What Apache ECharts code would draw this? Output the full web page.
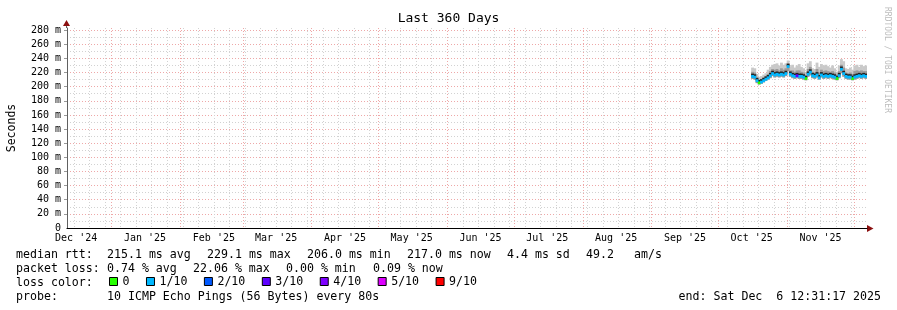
<!DOCTYPE html>
<html>
<head>
<meta charset="utf-8">
<title>Last 360 Days</title>
<script src="https://cdn.jsdelivr.net/npm/echarts@6/dist/echarts.min.js"></script>
<style>
  html, body { margin: 0; padding: 0; background: #fff; }
  #chart { width: 897px; height: 310px; }
</style>
</head>
<body>
<div id="chart"></div>
<script>
// x is measured in days since the start of the graph (360 days ending Sat Dec 6 2025)
const graphStart = Date.UTC(2024, 11, 11, 21, 30);
const spanDays = 360;
const yMax = 283;

// month labels, rrdtool centres them at month start + 15 days
const monthLabels = ["Dec '24", "Jan '25", "Feb '25", "Mar '25", "Apr '25", "May '25",
  "Jun '25", "Jul '25", "Aug '25", "Sep '25", "Oct '25", "Nov '25"];
const monthStarts = [[2024, 11], [2025, 0], [2025, 1], [2025, 2], [2025, 3], [2025, 4],
  [2025, 5], [2025, 6], [2025, 7], [2025, 8], [2025, 9], [2025, 10], [2025, 11]];
const firstSunday = [2024, 11, 15];

const yMajorTicks = [0, 20, 40, 60, 80, 100, 120, 140, 160, 180, 200, 220, 240, 260, 280];
const yMinorTicks = [10, 30, 50, 70, 90, 110, 130, 150, 170, 190, 210, 230, 250, 270];

// one sample per day, first one at day 308.5
const firstSampleDay = 308.5;
const medianRtt = [215, 214, 209, 206, 207, 209, 211, 213, 216, 219,
  217, 218, 217, 218, 217, 219, 229, 218, 216, 215,
  216, 215, 215, 214, 212, 218, 221, 216, 215, 217,
  213, 217, 215, 216, 215, 216, 215, 214, 212, 216,
  225, 219, 215, 214, 214, 212, 214, 215, 216, 215,
  216, 215];
// index into lossNames
const lossBucket = [1, 1, 1, 0, 1, 1, 1, 1, 1, 1,
  1, 1, 1, 1, 1, 1, 1, 1, 1, 1,
  3, 1, 1, 1, 0, 1, 1, 1, 1, 1,
  1, 1, 1, 1, 1, 1, 1, 1, 0, 1,
  1, 1, 1, 1, 1, 0, 1, 1, 1, 1,
  1, 1];
const smokeBottom = [211, 210, 205, 203, 204, 206, 208, 210, 212, 215,
  213, 214, 213, 214, 213, 215, 222, 214, 212, 211,
  212, 211, 211, 210, 209, 214, 216, 212, 211, 213,
  210, 213, 211, 212, 211, 212, 211, 210, 209, 212,
  219, 214, 211, 210, 210, 209, 210, 211, 212, 211,
  212, 211];
const smokeMid = [221, 220, 213, 210, 211, 213, 215, 218, 222, 225,
  224, 225, 223, 226, 224, 226, 233, 223, 223, 221,
  223, 223, 221, 220, 216, 225, 228, 221, 220, 225,
  220, 224, 222, 223, 222, 221, 222, 220, 216, 222,
  231, 227, 220, 219, 220, 218, 222, 223, 222, 223,
  222, 222];
const smokeTop = [227, 226, 218, 214, 215, 217, 219, 224, 228, 231,
  232, 233, 230, 234, 231, 233, 237, 229, 231, 227,
  230, 232, 228, 226, 221, 233, 236, 226, 225, 234,
  228, 232, 230, 231, 229, 227, 230, 226, 221, 230,
  239, 236, 226, 225, 227, 224, 230, 231, 228, 231,
  229, 230];

const lossNames = ['0', '1/10', '2/10', '3/10', '4/10', '5/10', '9/10'];
const lossColors = ['#26ff00', '#00b8ff', '#0059ff', '#5e00ff', '#7e00ff', '#dd00ff', '#ff0000'];

// legend text, one list of fields per line
const statFields = [
  ['median rtt:', '215.1 ms avg', '229.1 ms max', '206.0 ms min', '217.0 ms now', '4.4 ms sd', '49.2', 'am/s'],
  ['packet loss:', '0.74 % avg', '22.06 % max', '0.00 % min', '0.09 % now'],
  ['loss color:'],
  ['probe:', '10 ICMP Echo Pings (56 Bytes) every 80s']
];
const endText = 'end: Sat Dec  6 12:31:17 2025';

// where each field starts (px)
const fieldX = [
  [16, 107, 207, 307, 407, 507, 586, 634],
  [16, 107, 193, 286, 373],
  [16],
  [16, 107]
];

const MONO = '"DejaVu Sans Mono", "Liberation Mono", monospace';
const DAY = 86400000;
const dayOf = (y, m, d) => (Date.UTC(y, m, d || 1) - graphStart) / DAY;

const monthLines = monthStarts.map(([y, m]) => dayOf(y, m)).filter(d => d > 0 && d < spanDays);
const labelDays = monthStarts.slice(0, monthLabels.length).map(([y, m]) => dayOf(y, m) + 15);
const weekLines = [];
for (let d = dayOf(...firstSunday); d < spanDays; d += 7) weekLines.push(d);

const sampleDays = medianRtt.map((_, i) => firstSampleDay + i);

// thickness of the loss coloured median band and the dark core above it (ms)
const bandBelow = 2.5, bandAbove = 1.5, coreTop = 3.5;

function stepRect(fill) {
  return function (params, api) {
    const t = api.value(0);
    const a = api.coord([t - 0.5, api.value(2)]);
    const b = api.coord([t + 0.5, api.value(1)]);
    return {
      type: 'rect',
      shape: { x: a[0] - 0.3, y: a[1], width: b[0] - a[0] + 0.6, height: b[1] - a[1] },
      style: { fill: fill || api.visual('color') }
    };
  };
}

const smokeSeries = [
  { name: 'smoke outer', fill: '#c9c9c9', data: sampleDays.map((t, i) => [t, smokeBottom[i], smokeTop[i]]) },
  { name: 'smoke mid', fill: '#9a9a9a', data: sampleDays.map((t, i) => [t, smokeBottom[i], smokeMid[i]]) },
  { name: 'smoke core', fill: '#222222', data: sampleDays.map((t, i) => [t, medianRtt[i], medianRtt[i] + coreTop]) }
].map(s => ({
  type: 'custom', name: s.name, xAxisIndex: 0, yAxisIndex: 1, silent: true, clip: true,
  renderItem: stepRect(s.fill), data: s.data, z: 2
}));

const lossSeries = lossNames.map((name, k) => ({
  type: 'custom', name: name, xAxisIndex: 0, yAxisIndex: 1, silent: true, clip: true,
  itemStyle: { color: lossColors[k] },
  renderItem: stepRect(null),
  data: sampleDays.map((t, i) => [t, medianRtt[i] - bandBelow, medianRtt[i] + bandAbove])
    .filter((_, i) => lossBucket[i] === k),
  z: 3
}));

const gridBox = { left: 67, top: 28, width: 800, height: 200 };

const textEls = [];
statFields.forEach((fields, i) => {
  fields.forEach((f, j) => {
    textEls.push({
      type: 'text', x: fieldX[i][j], y: 254.5 + i * 14.1,
      style: { text: f, font: '11.6px ' + MONO, fill: '#000', verticalAlign: 'middle' }
    });
  });
});
textEls.push({
  type: 'text', x: 881, y: 254.5 + 3 * 14.1,
  style: { text: endText, font: '11.6px ' + MONO, fill: '#000', align: 'right', verticalAlign: 'middle' }
});

const chart = echarts.init(document.getElementById('chart'), null, { renderer: 'canvas' });

const option = {
  animation: false,
  backgroundColor: '#ffffff',
  title: {
    text: 'Last 360 Days', left: 'center', top: 12, padding: 0,
    textStyle: { fontFamily: MONO, fontSize: 13, fontWeight: 'normal', color: '#000' }
  },
  grid: Object.assign({ outerBoundsMode: 'none', containLabel: false }, gridBox),
  legend: {
    data: lossNames, left: 109, top: 275.5, padding: 0, icon: 'rect',
    itemWidth: 8, itemHeight: 8, itemGap: 16.5, selectedMode: false,
    itemStyle: { borderColor: '#000', borderWidth: 1 },
    textStyle: { fontFamily: MONO, fontSize: 11.6, color: '#000' }
  },
  xAxis: [
    {
      type: 'value', min: 0, max: spanDays, position: 'bottom',
      axisLine: { show: true, lineStyle: { color: '#000', width: 1.2 } },
      axisTick: { show: false, customValues: labelDays },
      axisLabel: {
        customValues: labelDays, margin: 5, color: '#000', fontFamily: MONO, fontSize: 10,
        formatter: v => {
          const k = labelDays.findIndex(d => Math.abs(d - v) < 0.01);
          return k >= 0 ? monthLabels[k] : '';
        }
      },
      splitLine: { show: false }
    },
    {
      type: 'value', min: 0, max: spanDays, position: 'bottom',
      axisLine: { show: false },
      axisTick: { show: false, customValues: weekLines },
      axisLabel: { show: false },
      splitLine: { show: true, lineStyle: { color: '#d2d2d2', width: 1, type: [1, 2] } }
    },
    {
      type: 'value', min: 0, max: spanDays, position: 'bottom',
      axisLine: { show: false },
      axisTick: { show: false, customValues: monthLines },
      axisLabel: { show: false },
      splitLine: { show: true, lineStyle: { color: '#eea8a8', width: 1, type: [1, 2] } }
    }
  ],
  yAxis: [
    {
      type: 'value', min: 0, max: yMax, position: 'left',
      axisLine: { show: false },
      axisTick: { show: false, customValues: yMinorTicks },
      axisLabel: { show: false },
      splitLine: { show: true, lineStyle: { color: '#d2d2d2', width: 1, type: [1, 2] } }
    },
    {
      type: 'value', min: 0, max: yMax, position: 'left',
      name: 'Seconds', nameLocation: 'middle', nameRotate: 90, nameGap: 49,
      nameTextStyle: { fontFamily: MONO, fontSize: 11.5, color: '#000' },
      axisLine: { show: true, lineStyle: { color: '#606060', width: 1 } },
      axisTick: { show: true, length: 3, customValues: yMajorTicks.filter(v => v > 0), lineStyle: { color: '#999' } },
      axisLabel: {
        customValues: yMajorTicks, margin: 6, color: '#000', fontFamily: MONO, fontSize: 10,
        formatter: v => (v === 0 ? '0' : v + ' m')
      },
      splitLine: { show: true, lineStyle: { color: '#eea8a8', width: 1, type: [1, 2] } }
    }
  ],
  series: smokeSeries.concat(lossSeries),
  graphic: [
    // axis arrows
    { type: 'line', shape: { x1: 66.5, y1: 28, x2: 66.5, y2: 24 }, style: { stroke: '#606060', lineWidth: 1 } },
    { type: 'polygon', shape: { points: [[63, 26], [70, 26], [66.5, 20]] }, style: { fill: '#8b1010' } },
    { type: 'polygon', shape: { points: [[867, 225], [867, 232], [873.5, 228.5]] }, style: { fill: '#8b1010' } },
    {
      type: 'text', x: 887, y: 60, rotation: -Math.PI / 2,
      style: { text: 'RRDTOOL / TOBI OETIKER', font: '8px ' + MONO, fill: '#bdbdbd', align: 'center', verticalAlign: 'middle' }
    }
  ].concat(textEls)
};

chart.setOption(option);
window.addEventListener('resize', () => chart.resize());
</script>
</body>
</html>
